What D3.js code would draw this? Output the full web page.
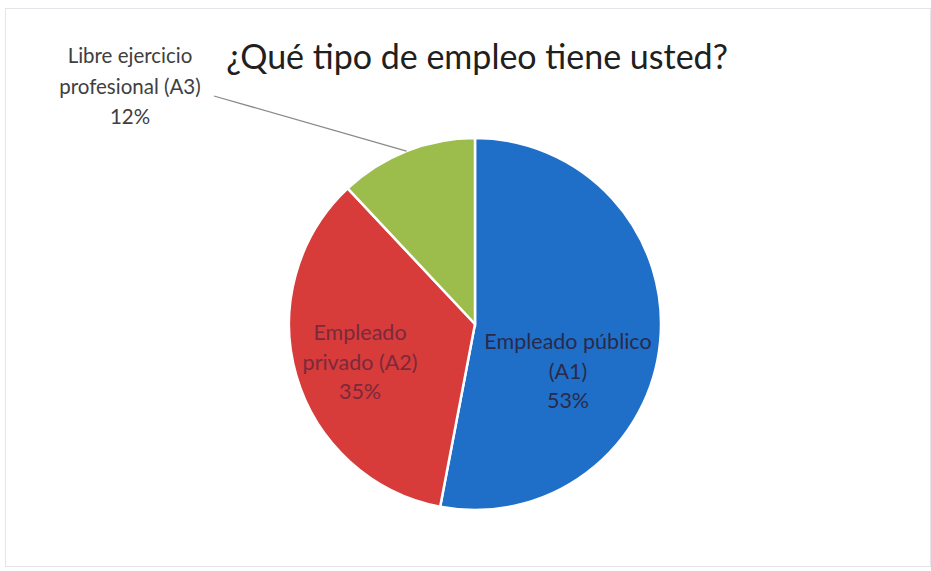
<!DOCTYPE html>
<html><head><meta charset="utf-8">
<script src="https://cdn.jsdelivr.net/npm/d3@7"></script>
<style>body{margin:0;background:#fff}svg{display:block}</style>
</head><body>
<svg id="c" width="931" height="571"></svg>
<script>
const categories = ["Empleado público (A1)", "Empleado privado (A2)", "Libre ejercicio profesional (A3)"];
const values = [53, 35, 12];
const labelLines = [["Empleado público", "(A1)", "53%"], ["Empleado", "privado (A2)", "35%"], ["Libre ejercicio", "profesional (A3)", "12%"]];
const colors = ["#1f6fc8", "#d73b3a", "#9cbd4b"];
const textColors = ["#2a2a48", "#7a2a3a"];
const title = "¿Qué tipo de empleo tiene usted?";

const svg = d3.select("#c");
svg.append("rect").attr("x",5.5).attr("y",8.5).attr("width",925).attr("height",558)
  .attr("fill","#fff").attr("stroke","#e4e4ea").attr("stroke-width",1);

const cx = 475, cy = 324, r = 186;
const pie = d3.pie().sort(null).value(d => d);
const arcs = pie(values);
const arc = d3.arc().innerRadius(0).outerRadius(r);
const g = svg.append("g").attr("transform", `translate(${cx},${cy})`);
g.selectAll("path").data(arcs).join("path")
  .attr("d", arc).attr("fill", (d,i) => colors[i])
  .attr("stroke", "#fff").attr("stroke-width", 2.5);

const font = "Lato, 'Open Sans', sans-serif";
// inside labels
const inPos = [[568, 349], [360, 340]];
[0,1].forEach(i => {
  const t = svg.append("text").attr("text-anchor","middle")
    .attr("font-family", font).attr("font-size", 21.5).attr("fill", textColors[i]);
  labelLines[i].forEach((s, k) => t.append("tspan").attr("x", inPos[i][0]).attr("y", inPos[i][1] + k*29.5).text(s));
});
// outside label
const ot = svg.append("text").attr("text-anchor","middle")
  .attr("font-family", font).attr("font-size", 20.5).attr("fill", "#404040");
labelLines[2].forEach((s,k) => ot.append("tspan").attr("x",130).attr("y",63 + k*30.5).text(s));
// leader line
const a3 = arcs[2];
const mid = (a3.startAngle + a3.endAngle)/2;
const ex = cx + r*Math.sin(mid), ey = cy - r*Math.cos(mid);
svg.append("line").attr("x1",214).attr("y1",96).attr("x2",ex).attr("y2",ey)
  .attr("stroke","#8a8a8a").attr("stroke-width",1.3);

svg.append("text").attr("x", 477).attr("y", 69).attr("text-anchor","middle")
  .attr("font-family", font).attr("font-size", 34).attr("fill","#202020").text(title);
</script>
</body></html>
